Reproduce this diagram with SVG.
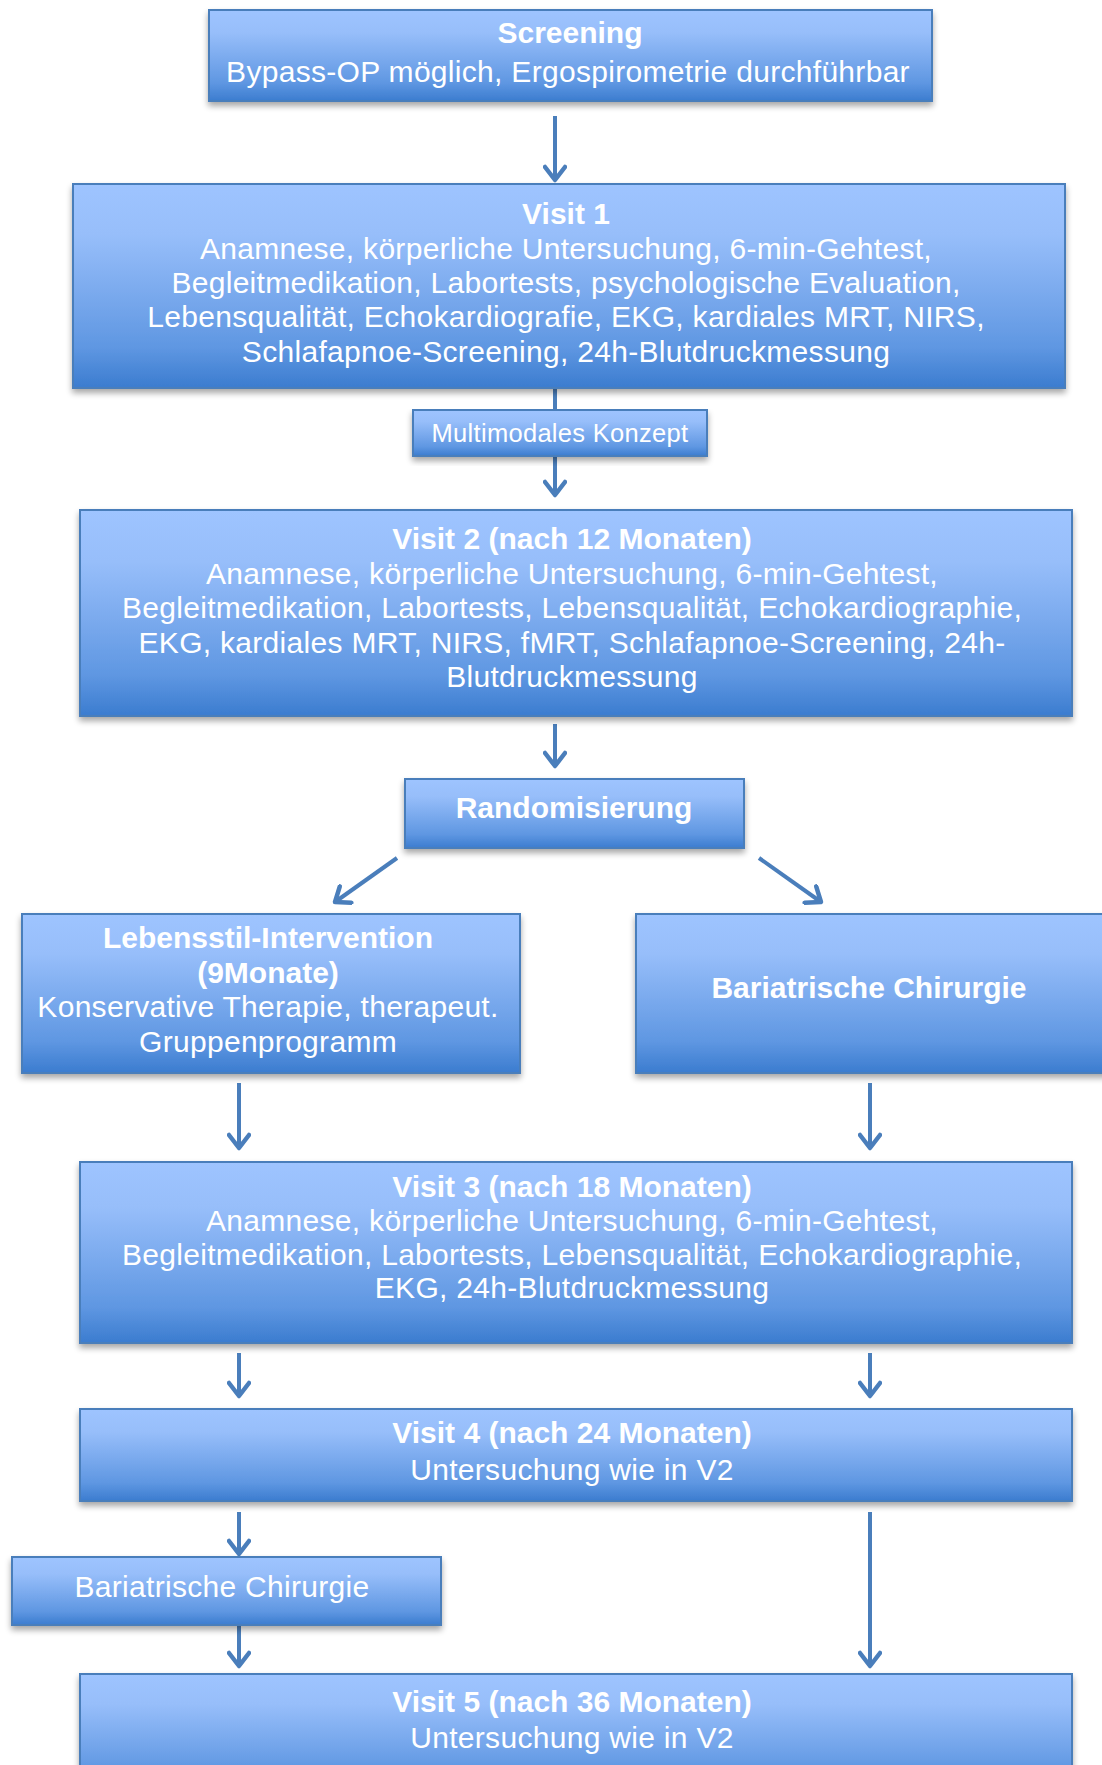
<svg xmlns="http://www.w3.org/2000/svg" width="1102" height="1765" viewBox="0 0 1102 1765">
<style>
.box{fill:url(#g);stroke:#4A7EBB;stroke-width:2;filter:url(#sh)}
.t{font-family:"Liberation Sans",Arial,sans-serif;font-size:30px;fill:#fff;text-anchor:middle;letter-spacing:0.3px}
.b{font-weight:bold;letter-spacing:0}
.c{fill:none;stroke:#4A7EBB;stroke-width:4}
</style>
<defs>
<linearGradient id="g" x1="0" y1="0" x2="0" y2="1">
<stop offset="0" stop-color="#9EC4FF"/>
<stop offset="0.25" stop-color="#97BEFA"/>
<stop offset="0.8" stop-color="#5F97E2"/>
<stop offset="1" stop-color="#3B7CCF"/>
</linearGradient>
<filter id="sh" x="-5%" y="-10%" width="110%" height="130%">
<feGaussianBlur in="SourceAlpha" stdDeviation="3"/>
<feOffset dx="0" dy="4" result="o"/>
<feComponentTransfer><feFuncA type="linear" slope="0.35"/></feComponentTransfer>
<feMerge><feMergeNode/><feMergeNode in="SourceGraphic"/></feMerge>
</filter>
<marker id="a" markerUnits="userSpaceOnUse" viewBox="-16 -12 20 24" refX="0" refY="0" markerWidth="20" markerHeight="24" orient="auto">
<path d="M-13,-10 L0,0 L-13,10" fill="none" stroke="#4A7EBB" stroke-width="4.5" stroke-linejoin="round" stroke-linecap="round"/>
</marker>
</defs>

<g id="connectors">
<line class="c" x1="555" y1="116" x2="555" y2="180" marker-end="url(#a)"/>
<line class="c" x1="555" y1="388" x2="555" y2="410"/>
<line class="c" x1="555" y1="456" x2="555" y2="495" marker-end="url(#a)"/>
<line class="c" x1="555" y1="724" x2="555" y2="766" marker-end="url(#a)"/>
<line class="c" x1="397" y1="858" x2="335" y2="902" marker-end="url(#a)"/>
<line class="c" x1="759" y1="858" x2="821" y2="902" marker-end="url(#a)"/>
<line class="c" x1="239" y1="1083" x2="239" y2="1148" marker-end="url(#a)"/>
<line class="c" x1="870" y1="1083" x2="870" y2="1148" marker-end="url(#a)"/>
<line class="c" x1="239" y1="1353" x2="239" y2="1396" marker-end="url(#a)"/>
<line class="c" x1="870" y1="1353" x2="870" y2="1396" marker-end="url(#a)"/>
<line class="c" x1="239" y1="1512" x2="239" y2="1554" marker-end="url(#a)"/>
<line class="c" x1="239" y1="1626" x2="239" y2="1666" marker-end="url(#a)"/>
<line class="c" x1="870" y1="1512" x2="870" y2="1666" marker-end="url(#a)"/>
</g>

<g id="screening">
<rect class="box" x="209" y="10" width="723" height="91"/>
<text class="t b" x="570" y="43">Screening</text>
<text class="t" x="568" y="82">Bypass-OP möglich, Ergospirometrie durchführbar</text>
</g>

<g id="visit1">
<rect class="box" x="73" y="184" width="992" height="204"/>
<text class="t b" x="566" y="224">Visit 1</text>
<text class="t" x="566" y="259">Anamnese, körperliche Untersuchung, 6-min-Gehtest,</text>
<text class="t" x="566" y="293">Begleitmedikation, Labortests, psychologische Evaluation,</text>
<text class="t" x="566" y="327">Lebensqualität, Echokardiografie, EKG, kardiales MRT, NIRS,</text>
<text class="t" x="566" y="362">Schlafapnoe-Screening, 24h-Blutdruckmessung</text>
</g>

<g id="multimodal">
<rect class="box" x="413" y="410" width="294" height="46"/>
<text class="t" x="560" y="442" style="font-size:25.5px">Multimodales Konzept</text>
</g>

<g id="visit2">
<rect class="box" x="80" y="510" width="992" height="206"/>
<text class="t b" x="572" y="549">Visit 2 (nach 12 Monaten)</text>
<text class="t" x="572" y="584">Anamnese, körperliche Untersuchung, 6-min-Gehtest,</text>
<text class="t" x="572" y="618">Begleitmedikation, Labortests, Lebensqualität, Echokardiographie,</text>
<text class="t" x="572" y="653">EKG, kardiales MRT, NIRS, fMRT, Schlafapnoe-Screening, 24h-</text>
<text class="t" x="572" y="687">Blutdruckmessung</text>
</g>

<g id="randomisierung">
<rect class="box" x="405" y="779" width="339" height="69"/>
<text class="t b" x="574" y="818">Randomisierung</text>
</g>

<g id="lebensstil">
<rect class="box" x="22" y="914" width="498" height="159"/>
<text class="t b" x="268" y="948">Lebensstil-Intervention</text>
<text class="t b" x="268" y="983">(9Monate)</text>
<text class="t" x="268" y="1017">Konservative Therapie, therapeut.</text>
<text class="t" x="268" y="1052">Gruppenprogramm</text>
</g>

<g id="bariatrisch1">
<rect class="box" x="636" y="914" width="475" height="159"/>
<text class="t b" x="869" y="998">Bariatrische Chirurgie</text>
</g>

<g id="visit3">
<rect class="box" x="80" y="1162" width="992" height="181"/>
<text class="t b" x="572" y="1197">Visit 3 (nach 18 Monaten)</text>
<text class="t" x="572" y="1231">Anamnese, körperliche Untersuchung, 6-min-Gehtest,</text>
<text class="t" x="572" y="1265">Begleitmedikation, Labortests, Lebensqualität, Echokardiographie,</text>
<text class="t" x="572" y="1298">EKG, 24h-Blutdruckmessung</text>
</g>

<g id="visit4">
<rect class="box" x="80" y="1409" width="992" height="92"/>
<text class="t b" x="572" y="1443">Visit 4 (nach 24 Monaten)</text>
<text class="t" x="572" y="1480">Untersuchung wie in V2</text>
</g>

<g id="bariatrisch2">
<rect class="box" x="12" y="1557" width="429" height="68"/>
<text class="t" x="222" y="1597">Bariatrische Chirurgie</text>
</g>

<g id="visit5">
<rect class="box" x="80" y="1674" width="992" height="120"/>
<text class="t b" x="572" y="1712">Visit 5 (nach 36 Monaten)</text>
<text class="t" x="572" y="1748">Untersuchung wie in V2</text>
</g>
</svg>
